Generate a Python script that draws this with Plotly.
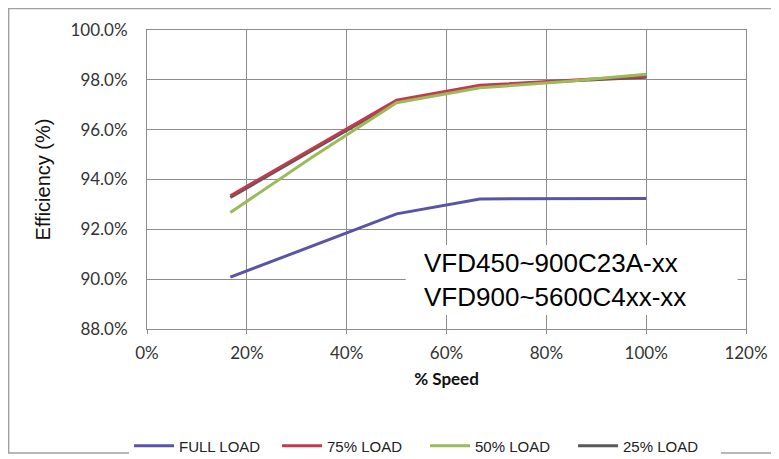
import plotly.graph_objects as go

# % speed points
speed = [16.7, 33.3, 50, 66.7, 83.3, 100]

full_load = [90.08, 91.35, 92.62, 93.22, 93.23, 93.24]
load_75 = [93.35, 95.25, 97.18, 97.78, 97.97, 98.15]
load_50 = [92.68, 94.92, 97.08, 97.68, 97.92, 98.22]
load_25 = [93.28, 95.18, 97.12, 97.74, 97.94, 98.10]

names = ['FULL LOAD', '75% LOAD', '50% LOAD', '25% LOAD']
colors = ['#5b53a6', '#c43a4c', '#9bbb59', '#595959']
series = [full_load, load_75, load_50, load_25]

# page body has an 8px margin, so the margins are trimmed by that much
fig = go.Figure()

# draw 25% first so it sits under the others, but keep legend order
draw_order = [3, 0, 1, 2]
for i in draw_order:
    fig.add_trace(go.Scatter(x=speed, y=series[i], name=names[i],
                             mode='lines', line=dict(color=colors[i], width=3),
                             legendrank=i + 1))

# white label box over the grid
fig.add_shape(type='rect', xref='paper', yref='paper',
              x0=0.432, x1=0.986, y0=0.047, y1=0.281,
              fillcolor='white', line=dict(width=0))
fig.add_annotation(x=0.459, y=0.163, xref='paper', yref='paper',
                   text='VFD450~900C23A-xx<br>VFD900~5600C4xx-xx',
                   showarrow=False, align='left',
                   font=dict(family='Liberation Sans, Arial', size=26, color='black'),
                   xanchor='left', yanchor='middle')

# outer chart border
fig.add_shape(type='rect', xref='paper', yref='paper',
              x0=-0.231, x1=1.065, y0=-0.415, y1=1.072,
              line=dict(color='#a0a0a0', width=1.5))

fig.update_layout(
    width=779, height=459,
    margin=dict(l=139, r=41, t=22, b=138, autoexpand=False),
    plot_bgcolor='white', paper_bgcolor='white',
    showlegend=True,
    legend=dict(orientation='h', x=-0.03, xanchor='left', y=-0.391, yanchor='middle',
                font=dict(family='Liberation Sans, Arial', size=15, color='#222'),
                itemwidth=40, traceorder='normal', tracegroupgap=0,
                entrywidth=93, entrywidthmode='pixels'),
)

tick_font = dict(family='Lato, Open Sans', size=17, color='#333')

fig.update_xaxes(range=[0, 120], dtick=20, ticksuffix='%',
                 showgrid=True, gridcolor='#8c8c8c', gridwidth=1,
                 showline=True, linecolor='#8c8c8c', mirror=True,
                 ticks='outside', ticklen=4, tickcolor='#8c8c8c',
                 ticklabelstandoff=5, tickfont=tick_font,
                 title=dict(text='<b>% Speed</b>', standoff=10,
                            font=dict(family='Lato, Open Sans', size=17, color='#111')),
                 zeroline=False)
fig.update_yaxes(range=[88, 100], dtick=2, tickformat='.1f', ticksuffix='%',
                 showgrid=True, gridcolor='#8c8c8c', gridwidth=1,
                 showline=True, linecolor='#8c8c8c', mirror=True,
                 ticks='', ticklabelstandoff=15, tickfont=tick_font,
                 title=dict(text='Efficiency (%)', standoff=14,
                            font=dict(family='Liberation Sans, Arial', size=20, color='#111')),
                 zeroline=False)

fig.write_html("out.html")
